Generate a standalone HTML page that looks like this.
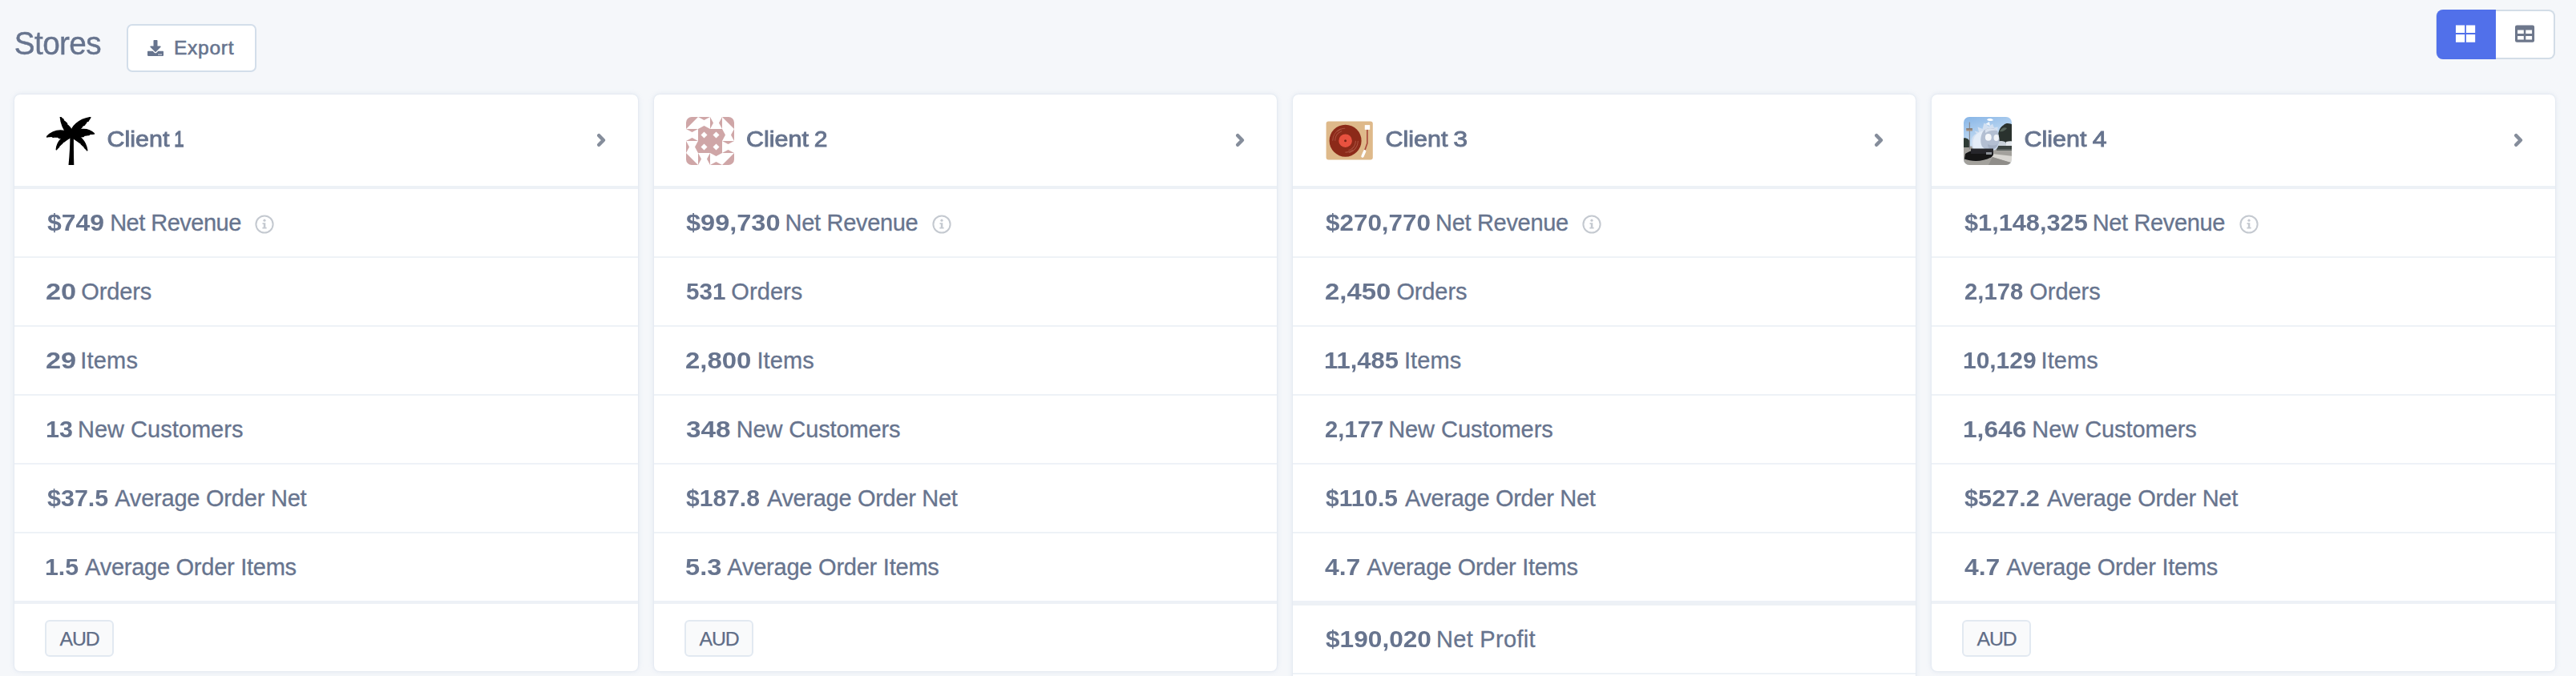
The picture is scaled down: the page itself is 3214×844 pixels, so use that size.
<!DOCTYPE html>
<html lang="en">
<head>
<meta charset="utf-8">
<title>Stores</title>
<style>
*{box-sizing:border-box;margin:0;padding:0}
html,body{width:3214px;height:844px;overflow:hidden;background:#f5f7fa}
body{position:relative;font-family:"Liberation Sans",Arial,sans-serif;color:#67748e}
.topbar{position:absolute;left:0;top:0;width:3214px;height:118px}
.title{position:absolute;left:17.800px;top:35.800px;font-size:38.700px;line-height:1;font-weight:400;letter-spacing:-0.600px;-webkit-text-stroke:0.400px #67748e;color:#67748e;white-space:nowrap;transform:scaleY(1.070);transform-origin:0 84.650%}
.export{position:absolute;left:158px;top:30px;width:162px;height:60px;border:2px solid #d3deea;border-radius:7px;background:#fff;color:#67748e;font-family:inherit}
.export .dl{position:absolute;left:24px;top:18px;color:#67748e}
.export-t{position:absolute;left:57px;top:13.500px;font-size:24.500px;line-height:28px;letter-spacing:0.750px;-webkit-text-stroke:0.600px #67748e;white-space:nowrap}
.toggle{position:absolute;left:3039px;top:12px;width:149px;height:62px;background:#dfe6ee;border-radius:9px}
.tg{position:absolute;top:0;height:62px}
.tg svg{position:absolute;top:19px;display:block}
.tg-on{left:1px;width:74px;background:#5170ea;border-radius:8px 0 0 8px}
.tg-on svg{left:24px}
.tg-off{left:75px;width:74px;background:#fff;border:2px solid #d3dde7;border-left:0;border-radius:0 8px 8px 0}
.tg-off svg{left:24px;top:17px}
.card{position:absolute;top:118px;height:720px;background:#fff;border-radius:7px;box-shadow:0 0 7px rgba(140,165,200,.2),0 0 2px rgba(140,165,200,.2);overflow:hidden}
.card-tall{height:760px;border-bottom-left-radius:0;border-bottom-right-radius:0}
.chead{position:relative;display:block;height:118px;border-bottom:4px solid #edf1f6}
.logo{position:absolute;left:40px;top:28px;width:60px;height:60px;display:block}
.logo svg{display:block}
.cname{position:absolute;left:115px;top:34.600px;height:40px;font-size:28.500px;line-height:40px;font-weight:400;-webkit-text-stroke:1px #67748e;white-space:nowrap;color:#67748e;word-spacing:-8px}
.cname span{display:inline-block;line-height:1;transform-origin:0 84.650%;vertical-align:baseline}
.chev{position:absolute;right:40px;top:47px}
.rows{list-style:none;display:block}
.row{position:relative;display:block;height:86px;border-bottom:2px solid #eef2f7;padding:0 0 0 40px;font-size:29px;line-height:84px;white-space:nowrap}
.rows .row:last-child{height:84px;border-bottom:0}
.row b{display:inline-block;line-height:1;font-weight:700;transform-origin:0 84.650%;vertical-align:baseline}
.row .lbl{-webkit-text-stroke:0.300px #67748e}
.row .info{position:relative;display:inline-block;vertical-align:baseline;margin-left:17.500px;top:3.500px}
.cfoot{display:block;height:88px;border-top:4px solid #edf1f6;position:relative}
.badge{position:absolute;left:38px;top:20px;width:86px;height:46px;border:2px solid #e2e9f1;border-radius:6px;background:#f9fafb;font-size:24.800px;line-height:44.400px;text-align:center;letter-spacing:-1.100px;text-indent:0.300px;color:#5f6d87;-webkit-text-stroke:0.250px #5f6d87}
.rows2{border-top:6px solid #edf1f6}
.rows2 .row:first-child{height:86px;border-bottom:2px solid #eef2f7}

</style>
</head>
<body>
<div class="topbar">
  <h1 class="title">Stores</h1>
  <button class="export"><svg class="dl" viewBox="0 0 512 512" width="20" height="20"><path fill="currentColor" d="M216 0h80c13.300 0 24 10.700 24 24v168h87.700c17.800 0 26.700 21.500 14.100 34.100L269.700 378.300c-7.500 7.500-19.800 7.500-27.300 0L90.100 226.100c-12.600-12.600-3.700-34.100 14.100-34.100H192V24c0-13.300 10.700-24 24-24zm296 376v112c0 13.300-10.700 24-24 24H24c-13.300 0-24-10.700-24-24V376c0-13.300 10.700-24 24-24h146.700l49 49c20.100 20.100 52.500 20.100 72.600 0l49-49H488c13.300 0 24 10.700 24 24zm-124 88c0-11-9-20-20-20s-20 9-20 20 9 20 20 20 20-9 20-20zm64 0c0-11-9-20-20-20s-20 9-20 20 9 20 20 20 20-9 20-20z"/></svg><span class="export-t">Export</span></button>
  <div class="toggle">
    <div class="tg tg-on"><svg viewBox="0 0 25 22" width="25" height="22"><path fill="#fff" d="M0 0.400h11.200V10H0zM13 0.400h11.200V10H13zM0 12h11.200v9.700H0zM13 12h11.200v9.700H13z"/></svg></div>
    <div class="tg tg-off"><svg viewBox="0 0 25 22" width="25" height="22"><path fill="#6d778b" fill-rule="evenodd" d="M2.300 0.400h19.500a2.300 2.300 0 0 1 2.300 2.300v16.700a2.300 2.300 0 0 1-2.300 2.300H2.300A2.300 2.300 0 0 1 0 19.400V2.700A2.300 2.300 0 0 1 2.300 0.400zM3.100 6.400v4.500h7.700V6.400zM13.300 6.400v4.500h7.800V6.400zM3.100 14.100v4.500h7.700v-4.500zM13.300 14.100v4.500h7.800v-4.500z"/></svg></div>
  </div>
</div>
<section class="card" style="left:18px;width:778px">
  <header class="chead"><span class="logo"><svg viewBox="0 0 60 60" width="60" height="60"><g fill="#000"><path d="M27.500 60C28.800 47 29.600 33 29.300 20L34 20C33.800 33 34 47 34.300 60Z"/><g stroke="#000" stroke-width="1.500" stroke-linejoin="round"><path d="M27 23C22 17 18 8 17.300 0C18.800 1.200 19.300 2.500 21 3L21.300 5C23 5.300 24 7 25.300 7.800L25.800 10C27.500 10.500 28.500 12.500 29.500 13.500C31 15.500 32 18 32.500 21.500Z"/><path d="M30 21C31 12 40 3 54.800 0.600C54.300 2.500 52.500 3 52.300 5L50 5.800C50 7.800 48 8.300 47.500 10L45 11C44.800 13 43 13.500 42 15C39 18 35 21 33 22.500Z"/><path d="M31 23.500C26 15 10 14 0 25C2.500 24.200 4 25 6 24L8 25.200C10 24.300 12 25.500 14 25L16 26.500C18 25.800 19.500 27 21.500 26.500C25 27 28 26 31 23.500Z"/><path d="M31 22.500C37 14 52 13 59.600 21C57.500 20.600 56.500 21.800 54.500 21.200L53 22.500C51 22 49.500 23.300 47.500 23L46 24.500C44 24.200 43 25.500 41 25.200C38 26.200 34 25 31 22.500Z"/><path d="M31 21C22 22 13 30 12.300 40.800C13.800 39.800 14 38.300 15.500 37.500L16 36C17.800 35.500 18 33.800 19.500 33L20.500 31.500C22.500 31.300 23 29.500 24.500 29C27 27.500 30 26 32 23Z"/><path d="M31 21C41 22 49 30 50.800 41.800C49.500 40.800 49 39.300 47.500 38.500L47 37C45.300 36.500 45 35 43.500 34.200L42.800 32.800C41 32.500 40.500 31 39 30.300C36 28.500 33 26 31 23Z"/></g></g></svg></span><span class="cname" style="left:115.5px"><span style="font-size:30.46px;transform:scaleY(0.9357)">Client</span> <span class="cd" style="font-size:22.23px;transform:scaleY(1.2821);margin-left:6px">1</span></span><svg class="chev" viewBox="0 0 14 20" width="14" height="20"><path d="M5.300 4.200L10.900 10L5.300 15.800" fill="none" stroke="#858d9b" stroke-width="4.500" stroke-linecap="round" stroke-linejoin="round"/></svg></header>
  <ul class="rows">
    <li class="row" style="padding-left:41px"><b style="font-size:31.97px;transform:scaleY(0.9071)">$749</b><span class="lbl" style="margin-left:7px;letter-spacing:-0.51px">Net Revenue</span><svg class="info" viewBox="0 0 24 24" width="24" height="24"><circle cx="12" cy="12" r="10.6" fill="none" stroke="#c4c9d0" stroke-width="2"/><circle cx="12" cy="7.200" r="1.600" fill="#c4c9d0"/><path fill="#c4c9d0" d="M9.500 10.200h3.800v5.500h1.300v1.800H9.400v-1.800h1.400v-3.700H9.500z"/></svg></li>
    <li class="row" style="padding-left:39px"><b style="font-size:34.37px;transform:scaleY(0.8437)">20</b><span class="lbl" style="margin-left:6px;letter-spacing:-0.12px">Orders</span></li>
    <li class="row" style="padding-left:39px"><b style="font-size:34.37px;transform:scaleY(0.8437)">29</b><span class="lbl" style="margin-left:5px;letter-spacing:0.21px">Items</span></li>
    <li class="row" style="padding-left:39px"><b style="font-size:30.49px;transform:scaleY(0.9513)">13</b><span class="lbl" style="margin-left:6px;letter-spacing:0.02px">New Customers</span></li>
    <li class="row" style="padding-left:41px"><b style="font-size:30.48px;transform:scaleY(0.9514)">$37.5</b><span class="lbl" style="margin-left:8px;letter-spacing:-0.22px">Average Order Net</span></li>
    <li class="row" style="padding-left:38px"><b style="font-size:30.29px;transform:scaleY(0.9575)">1.5</b><span class="lbl" style="margin-left:8px;letter-spacing:-0.26px">Average Order Items</span></li>
  </ul>
  <footer class="cfoot"><span class="badge">AUD</span></footer>
</section>
<section class="card" style="left:816px;width:777px">
  <header class="chead"><span class="logo"><svg viewBox="0 0 60 60" width="60" height="60"><defs><clipPath id="idc"><rect width="60" height="60" rx="7" ry="7"/></clipPath></defs><g clip-path="url(#idc)"><rect width="60" height="60" fill="#fff"/><g fill="#cfa6a7"><path d="M0 0H15L0 15ZM60 0V15L45 0ZM60 60H45L60 45ZM0 60V45L15 60Z"/><path d="M15 0H30L22.500 4ZM15 15H30L22.500 11ZM30 0V15L34 7.500ZM45 0V15L41 7.500Z"/><path d="M60 15V30L56 22.500ZM45 15V30L49 22.500ZM60 30H45L52.500 34ZM60 45H45L52.500 41Z"/><path d="M45 60H30L37.500 56ZM45 45H30L37.500 49ZM30 60V45L26 52.500ZM15 60V45L19 52.500Z"/><path d="M0 45V30L4 37.500ZM15 45V30L11 37.500ZM0 30H15L7.500 26ZM0 15H15L7.500 19Z"/><path fill-rule="evenodd" d="M15 15H45V45H15ZM22.500 18.500L26.500 22.500L22.500 26.500L18.500 22.500ZM37.500 18.500L41.500 22.500L37.500 26.500L33.500 22.500ZM22.500 33.500L26.500 37.500L22.500 41.500L18.500 37.500ZM37.500 33.500L41.500 37.500L37.500 41.500L33.500 37.500Z"/></g></g></svg></span><span class="cname" style="left:115px"><span style="font-size:30.46px;transform:scaleY(0.9358)">Client</span> <span class="cd" style="font-size:30.01px;transform:scaleY(0.9497);margin-left:7px">2</span></span><svg class="chev" viewBox="0 0 14 20" width="14" height="20"><path d="M5.300 4.200L10.900 10L5.300 15.800" fill="none" stroke="#858d9b" stroke-width="4.500" stroke-linecap="round" stroke-linejoin="round"/></svg></header>
  <ul class="rows">
    <li class="row" style="padding-left:40px"><b style="font-size:32.52px;transform:scaleY(0.8918)">$99,730</b><span class="lbl" style="margin-left:6px;letter-spacing:-0.31px">Net Revenue</span><svg class="info" viewBox="0 0 24 24" width="24" height="24"><circle cx="12" cy="12" r="10.6" fill="none" stroke="#c4c9d0" stroke-width="2"/><circle cx="12" cy="7.200" r="1.600" fill="#c4c9d0"/><path fill="#c4c9d0" d="M9.500 10.200h3.800v5.500h1.300v1.800H9.400v-1.800h1.400v-3.700H9.500z"/></svg></li>
    <li class="row" style="padding-left:40px"><b style="font-size:29.59px;transform:scaleY(0.9800)">531</b><span class="lbl" style="margin-left:7px;letter-spacing:0.07px">Orders</span></li>
    <li class="row" style="padding-left:39px"><b style="font-size:32.95px;transform:scaleY(0.8803)">2,800</b><span class="lbl" style="margin-left:7px;letter-spacing:0.08px">Items</span></li>
    <li class="row" style="padding-left:40px"><b style="font-size:33.36px;transform:scaleY(0.8693)">348</b><span class="lbl" style="margin-left:7px;letter-spacing:-0.11px">New Customers</span></li>
    <li class="row" style="padding-left:40px"><b style="font-size:30.06px;transform:scaleY(0.9649)">$187.8</b><span class="lbl" style="margin-left:9px;letter-spacing:-0.31px">Average Order Net</span></li>
    <li class="row" style="padding-left:39px"><b style="font-size:32.63px;transform:scaleY(0.8889)">5.3</b><span class="lbl" style="margin-left:7px;letter-spacing:-0.23px">Average Order Items</span></li>
  </ul>
  <footer class="cfoot"><span class="badge">AUD</span></footer>
</section>
<section class="card card-tall" style="left:1613px;width:777px">
  <header class="chead"><span class="logo"><svg viewBox="0 0 60 60" width="60" height="60"><g transform="translate(0.8 0.3)"><rect x="0.800" y="5.300" width="58.200" height="48" rx="3" ry="3" fill="#deb98a"/><circle cx="24.800" cy="29.400" r="20" fill="#8c2a19"/><g fill="none" stroke="#a9513f" stroke-width="1.100" stroke-linecap="round"><path d="M9 29A15.800 15.800 0 0 1 19 14.800"/><path d="M12 29A12.800 12.800 0 0 1 20 17.500"/><path d="M40.600 30A15.800 15.800 0 0 1 30 44.300"/><path d="M37.600 30A12.800 12.800 0 0 1 29 41.500"/><path d="M15 17.500A14 14 0 0 1 24 14"/><path d="M34 41A14 14 0 0 1 25 43.800"/></g><circle cx="24.800" cy="29.400" r="8.300" fill="#e8513f"/><circle cx="24.800" cy="29.400" r="1.500" fill="#7a2416"/><rect x="49" y="9.800" width="6.400" height="5.800" fill="#fff"/><path d="M52.100 15.600V32.500L48.500 43" fill="none" stroke="#a8473a" stroke-width="1.600"/><path d="M48.900 42.500L46.200 48.800" fill="none" stroke="#fff" stroke-width="3.400" stroke-linecap="round"/></g></svg></span><span class="cname" style="left:115.5px"><span style="font-size:30.46px;transform:scaleY(0.9358)">Client</span> <span class="cd" style="font-size:32.14px;transform:scaleY(0.8867);margin-left:7px">3</span></span><svg class="chev" viewBox="0 0 14 20" width="14" height="20"><path d="M5.300 4.200L10.900 10L5.300 15.800" fill="none" stroke="#858d9b" stroke-width="4.500" stroke-linecap="round" stroke-linejoin="round"/></svg></header>
  <ul class="rows">
    <li class="row" style="padding-left:41px"><b style="font-size:31.41px;transform:scaleY(0.9234)">$270,770</b><span class="lbl" style="margin-left:6px;letter-spacing:-0.31px">Net Revenue</span><svg class="info" viewBox="0 0 24 24" width="24" height="24"><circle cx="12" cy="12" r="10.6" fill="none" stroke="#c4c9d0" stroke-width="2"/><circle cx="12" cy="7.200" r="1.600" fill="#c4c9d0"/><path fill="#c4c9d0" d="M9.500 10.200h3.800v5.500h1.300v1.800H9.400v-1.800h1.400v-3.700H9.500z"/></svg></li>
    <li class="row" style="padding-left:40px"><b style="font-size:32.94px;transform:scaleY(0.8804)">2,450</b><span class="lbl" style="margin-left:7px;letter-spacing:-0.12px">Orders</span></li>
    <li class="row" style="padding-left:39px"><b style="font-size:30.96px;transform:scaleY(0.9367)">11,485</b><span class="lbl" style="margin-left:7px;letter-spacing:0.08px">Items</span></li>
    <li class="row" style="padding-left:40px"><b style="font-size:29.24px;transform:scaleY(0.9918)">2,177</b><span class="lbl" style="margin-left:6px;letter-spacing:-0.06px">New Customers</span></li>
    <li class="row" style="padding-left:41px"><b style="font-size:29.95px;transform:scaleY(0.9682)">$110.5</b><span class="lbl" style="margin-left:9px;letter-spacing:-0.31px">Average Order Net</span></li>
    <li class="row" style="padding-left:40px"><b style="font-size:31.9px;transform:scaleY(0.9090)">4.7</b><span class="lbl" style="margin-left:8px;letter-spacing:-0.28px">Average Order Items</span></li>
  </ul>
  <ul class="rows rows2">
    <li class="row" style="padding-left:41px"><b style="font-size:31.65px;transform:scaleY(0.9162)">$190,020</b><span class="lbl" style="margin-left:6px;letter-spacing:0.3px">Net Profit</span></li>
    <li class="row"></li>
  </ul>
</section>
<section class="card" style="left:2410px;width:778px">
  <header class="chead"><span class="logo"><svg viewBox="0 0 60 60" width="60" height="60"><defs><clipPath id="phc"><rect width="60" height="60" rx="7" ry="7"/></clipPath><linearGradient id="sky" x1="0" y1="0" x2="0.300" y2="1"><stop offset="0" stop-color="#86b4e6"/><stop offset="0.550" stop-color="#c3dcf3"/><stop offset="1" stop-color="#dfeaf5"/></linearGradient><filter id="bl" x="-10%" y="-10%" width="120%" height="120%"><feGaussianBlur stdDeviation="0.650"/></filter></defs><g clip-path="url(#phc)"><rect width="60" height="60" fill="url(#sky)"/><g filter="url(#bl)"><rect x="-2" y="36.500" width="64" height="26" fill="#a3a19c"/><path d="M43 30C42 22 44 13 50 10C53 7 58 8 62 10V33H43Z" fill="#2b332f"/><path d="M45 18C47 14 51 12 54 14C52 17 48 19 45 18Z" fill="#56635a"/><path d="M-2 27C2 25 7 27 8 32V38H-2Z" fill="#2f3a36"/><path d="M41 31H62V42H41Z" fill="#5d6361"/><path d="M42 31C46 29 52 30 53 33V36H42Z" fill="#c9d1d9"/><path d="M53 31C56 30 60 30 62 31V36H53Z" fill="#e4e8ec"/><path d="M41 36H62V40H41Z" fill="#3e4443"/><path d="M35 46L62 49V58L35 50Z" fill="#d8d6d1"/><path d="M36 50L62 58V62H30Z" fill="#8f8d89"/><rect x="6.800" y="6.500" width="1.100" height="34" fill="#85878c"/><rect x="3.300" y="14.300" width="7.600" height="3.200" fill="#a48f7e"/><rect x="3.300" y="14.300" width="7.600" height="1.200" fill="#7d7570"/><path d="M29 3.500C31 1.500 35 1.500 37 4C35 5.500 31 5.500 29 3.500Z" fill="#fff"/><path d="M27 9L32 6L33 11Z" fill="#eef4fb"/><path d="M10 34C9 27 12 22 16 21L13.500 17.500L19 19L17.500 12.500L23.500 15L25.500 7.500L31.500 12L36 8.500L38 13.500L42.500 12.500L42.500 20C45.500 26 45 36 41 40C35 44 22 44 14 42C11 40 10.500 38 10 34Z" fill="#d3e0f1"/><path d="M14 24C17 20 21 18 25 17C22 24 22 33 26 41C21 42 16 41 13 40C11 35 11 29 14 24Z" fill="#e4edf8"/><path d="M25 17C31 12.500 41 13 43 20C45.500 28 44.500 36 40 39.500C35 42.500 27 41.500 23 37C20 31 21 22 25 17Z" fill="#b3bfd2"/><path d="M27 16C31 13.500 38 13.500 42 17C37 16 31 17 27 20Z" fill="#d9e2ef"/><ellipse cx="30.800" cy="25.400" rx="3.900" ry="4.300" fill="#f6f8fb"/><ellipse cx="40.700" cy="26" rx="3.200" ry="4" fill="#f0f3f8"/><path d="M30 34C34 36 39 36 42 34C41 38 37 40.500 33 40C31 39 30 37 30 34Z" fill="#a3afc3"/><path d="M2 46C8 41 22 39.500 34 42.500C38 44 38 48 34 50.500C24 56 10 56 1 52.500Z" fill="#121416"/><path d="M9 39.500H37V46H9Z" fill="#26282a"/><path d="M28 44H35V47H28Z" fill="#8d9298"/></g></g></svg></span><span class="cname" style="left:115.5px"><span style="font-size:30.46px;transform:scaleY(0.9358)">Client</span> <span class="cd" style="font-size:32.09px;transform:scaleY(0.8881);margin-left:7.5px">4</span></span><svg class="chev" viewBox="0 0 14 20" width="14" height="20"><path d="M5.300 4.200L10.900 10L5.300 15.800" fill="none" stroke="#858d9b" stroke-width="4.500" stroke-linecap="round" stroke-linejoin="round"/></svg></header>
  <ul class="rows">
    <li class="row" style="padding-left:41px"><b style="font-size:30.73px;transform:scaleY(0.9437)">$1,148,325</b><span class="lbl" style="margin-left:6px;letter-spacing:-0.36px">Net Revenue</span><svg class="info" viewBox="0 0 24 24" width="24" height="24"><circle cx="12" cy="12" r="10.6" fill="none" stroke="#c4c9d0" stroke-width="2"/><circle cx="12" cy="7.200" r="1.600" fill="#c4c9d0"/><path fill="#c4c9d0" d="M9.500 10.200h3.800v5.500h1.300v1.800H9.400v-1.800h1.400v-3.700H9.500z"/></svg></li>
    <li class="row" style="padding-left:41px"><b style="font-size:29.25px;transform:scaleY(0.9915)">2,178</b><span class="lbl" style="margin-left:8px;letter-spacing:-0.02px">Orders</span></li>
    <li class="row" style="padding-left:39px"><b style="font-size:29.95px;transform:scaleY(0.9683)">10,129</b><span class="lbl" style="margin-left:6px;letter-spacing:0.08px">Items</span></li>
    <li class="row" style="padding-left:39px"><b style="font-size:31.69px;transform:scaleY(0.9152)">1,646</b><span class="lbl" style="margin-left:7px;letter-spacing:-0.06px">New Customers</span></li>
    <li class="row" style="padding-left:41px"><b style="font-size:30.69px;transform:scaleY(0.9450)">$527.2</b><span class="lbl" style="margin-left:9px;letter-spacing:-0.28px">Average Order Net</span></li>
    <li class="row" style="padding-left:41px"><b style="font-size:31.87px;transform:scaleY(0.9101)">4.7</b><span class="lbl" style="margin-left:8px;letter-spacing:-0.26px">Average Order Items</span></li>
  </ul>
  <footer class="cfoot"><span class="badge">AUD</span></footer>
</section>
</body>
</html>
